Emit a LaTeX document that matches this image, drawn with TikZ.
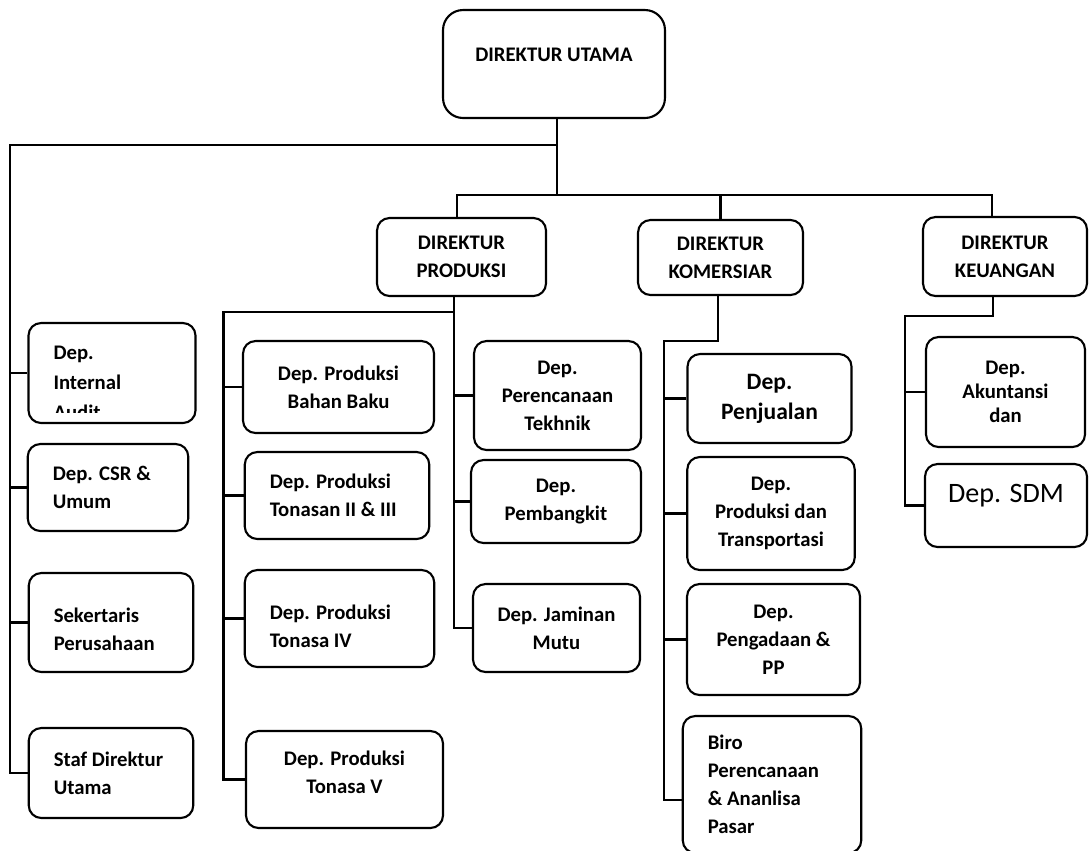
\documentclass[tikz,border=0pt]{standalone}
\usepackage{fontspec}
\setmainfont{Carlito}

\begin{document}
\begin{tikzpicture}[x=0.02cm, y=-0.02cm,
  unitbox/.style={draw, line width=1.2pt, rounded corners=0.25cm, inner sep=2pt, font=\bfseries\fontsize{11.8}{16}\selectfont},
  deptC/.style={unitbox, align=center},
  deptL/.style={unitbox, align=flush left, inner xsep=0.5cm, text width=#1},
  lift/.style={text depth=#1},
  link/.style={line width=1.2pt}
]
\useasboundingbox (0,0) rectangle (1089,850);

% --------- DIREKSI ----------
\node[unitbox, minimum width=4.44cm, minimum height=2.16cm, rounded corners=0.4cm, lift=0.36cm] (utama) at (554,64) {DIREKTUR UTAMA};
\node[deptC, minimum width=3.38cm, minimum height=1.56cm] (produksi) at (461.5,257) {DIREKTUR\\PRODUKSI};
\node[deptC, minimum width=3.30cm, minimum height=1.50cm] (komersiar) at (720.5,257.5) {DIREKTUR\\KOMERSIAR};
\node[deptC, minimum width=3.28cm, minimum height=1.58cm] (keuangan) at (1005,256.5) {DIREKTUR\\KEUANGAN};

% --------- STAF DIREKTUR UTAMA ----------
\node[deptL=2.34cm, minimum height=2.0cm] (audit) at (112,373) {};
\begin{scope}
  \clip (audit.north west) rectangle ([yshift=0.24cm]audit.south east);
  \node[deptL=2.34cm, draw=none, font=\bfseries\fontsize{11.8}{17}\selectfont] (auditText) at ([yshift=-0.19cm]audit.center) {Dep.\\Internal\\Audit};
\end{scope}
\node[deptL=2.21cm, minimum height=1.74cm] (csr) at (108,487.5) {Dep. CSR \&\\Umum};
\node[deptL=2.29cm, minimum height=1.98cm, lift=0.28cm] (sekretaris) at (111,622.5) {Sekertaris\\Perusahaan};
\node[deptL=2.29cm, minimum height=1.80cm] (staf) at (111,773) {Staf Direktur\\Utama};

% --------- PRODUKSI ----------
\node[deptC, minimum width=3.82cm, minimum height=1.84cm] (bahan) at (338.5,387) {Dep. Produksi\\Bahan Baku};
\node[deptL=2.69cm, minimum height=1.74cm] (tonasan) at (337,495.5) {Dep. Produksi\\Tonasan II \& III};
\node[deptL=2.79cm, minimum height=1.94cm, lift=0.26cm] (tonasaIV) at (339.5,618.5) {Dep. Produksi\\Tonasa IV};
\node[deptC, minimum width=3.94cm, minimum height=1.94cm, lift=0.28cm] (tonasaV) at (344.5,779.5) {Dep. Produksi\\Tonasa V};

\node[deptC, minimum width=3.34cm, minimum height=2.18cm] (perencanaan) at (557.5,395.5) {Dep.\\Perencanaan\\Tekhnik};
\node[deptC, minimum width=3.40cm, minimum height=1.66cm] (pembangkit) at (556,501.5) {Dep.\\Pembangkit};
\node[deptC, minimum width=3.34cm, minimum height=1.76cm] (jaminan) at (556.5,628) {Dep. Jaminan\\Mutu};

% --------- KOMERSIAR ----------
\node[deptC, minimum width=3.28cm, minimum height=1.78cm, font=\bfseries\fontsize{13.4}{17}\selectfont] (penjualan) at (769.5,398.5) {Dep.\\Penjualan};
\node[deptC, minimum width=3.35cm, minimum height=2.26cm] (transportasi) at (771,513.5) {Dep.\\Produksi dan\\Transportasi};
\node[deptC, minimum width=3.46cm, minimum height=2.22cm] (pengadaan) at (773.5,639.5) {Dep.\\Pengadaan \&\\PP};
\node[deptL=2.57cm, minimum height=2.74cm] (biro) at (772,784.5) {Biro\\Perencanaan\\\& Ananlisa\\Pasar};

% --------- KEUANGAN ----------
\node[deptC, minimum width=3.18cm, minimum height=2.20cm, font=\bfseries\fontsize{11.8}{13.6}\selectfont] (akuntansi) at (1005.5,392) {Dep.\\Akuntansi\\dan};
\node[deptC, minimum width=3.24cm, minimum height=1.66cm, lift=0.5cm, font=\fontsize{16}{19}\selectfont] (sdm) at (1006,505.5) {Dep. SDM};

% --------- GARIS ----------
\coordinate (hubA) at (557,145);
\coordinate (trunkL) at (10,145);
\coordinate (busP) at (457,195);
\coordinate (busK) at (992,195);
\coordinate (prodR) at (454,312);
\coordinate (prodL) at (223.5,312);
\coordinate (komB) at (718,341);
\coordinate (komL) at (664,341);
\coordinate (keuB) at (993,316);
\coordinate (keuL) at (905,316);

\draw[link] (hubA |- utama.south) -- (hubA |- busP);
\draw[link] (hubA) -- (trunkL) |- (staf.west);
\foreach \dep in {audit,csr,sekretaris}
  \draw[link] (trunkL |- \dep.west) -- (\dep.west);
\draw[link] (busP |- produksi.north) -- (busP) -- (busK) -- (busK |- keuangan.north);
\draw[link] (komersiar.north) -- (komersiar.north |- busP);

\draw[link] (prodR |- produksi.south) -- (prodR) |- (jaminan.west);
\draw[link] (prodR) -- (prodL) |- (tonasaV.west);
\foreach \dep in {bahan,tonasan,tonasaIV}
  \draw[link] (prodL |- \dep.west) -- (\dep.west);
\foreach \dep in {perencanaan,pembangkit}
  \draw[link] (prodR |- \dep.west) -- (\dep.west);

\draw[link] (komB |- komersiar.south) -- (komB) -- (komL) |- ([yshift=-0.31cm]biro.west);
\foreach \dep in {penjualan,transportasi,pengadaan}
  \draw[link] (komL |- \dep.west) -- (\dep.west);

\draw[link] (keuB |- keuangan.south) -- (keuB) -- (keuL) |- (sdm.west);
\draw[link] (keuL |- akuntansi.west) -- (akuntansi.west);

\end{tikzpicture}
\end{document}
